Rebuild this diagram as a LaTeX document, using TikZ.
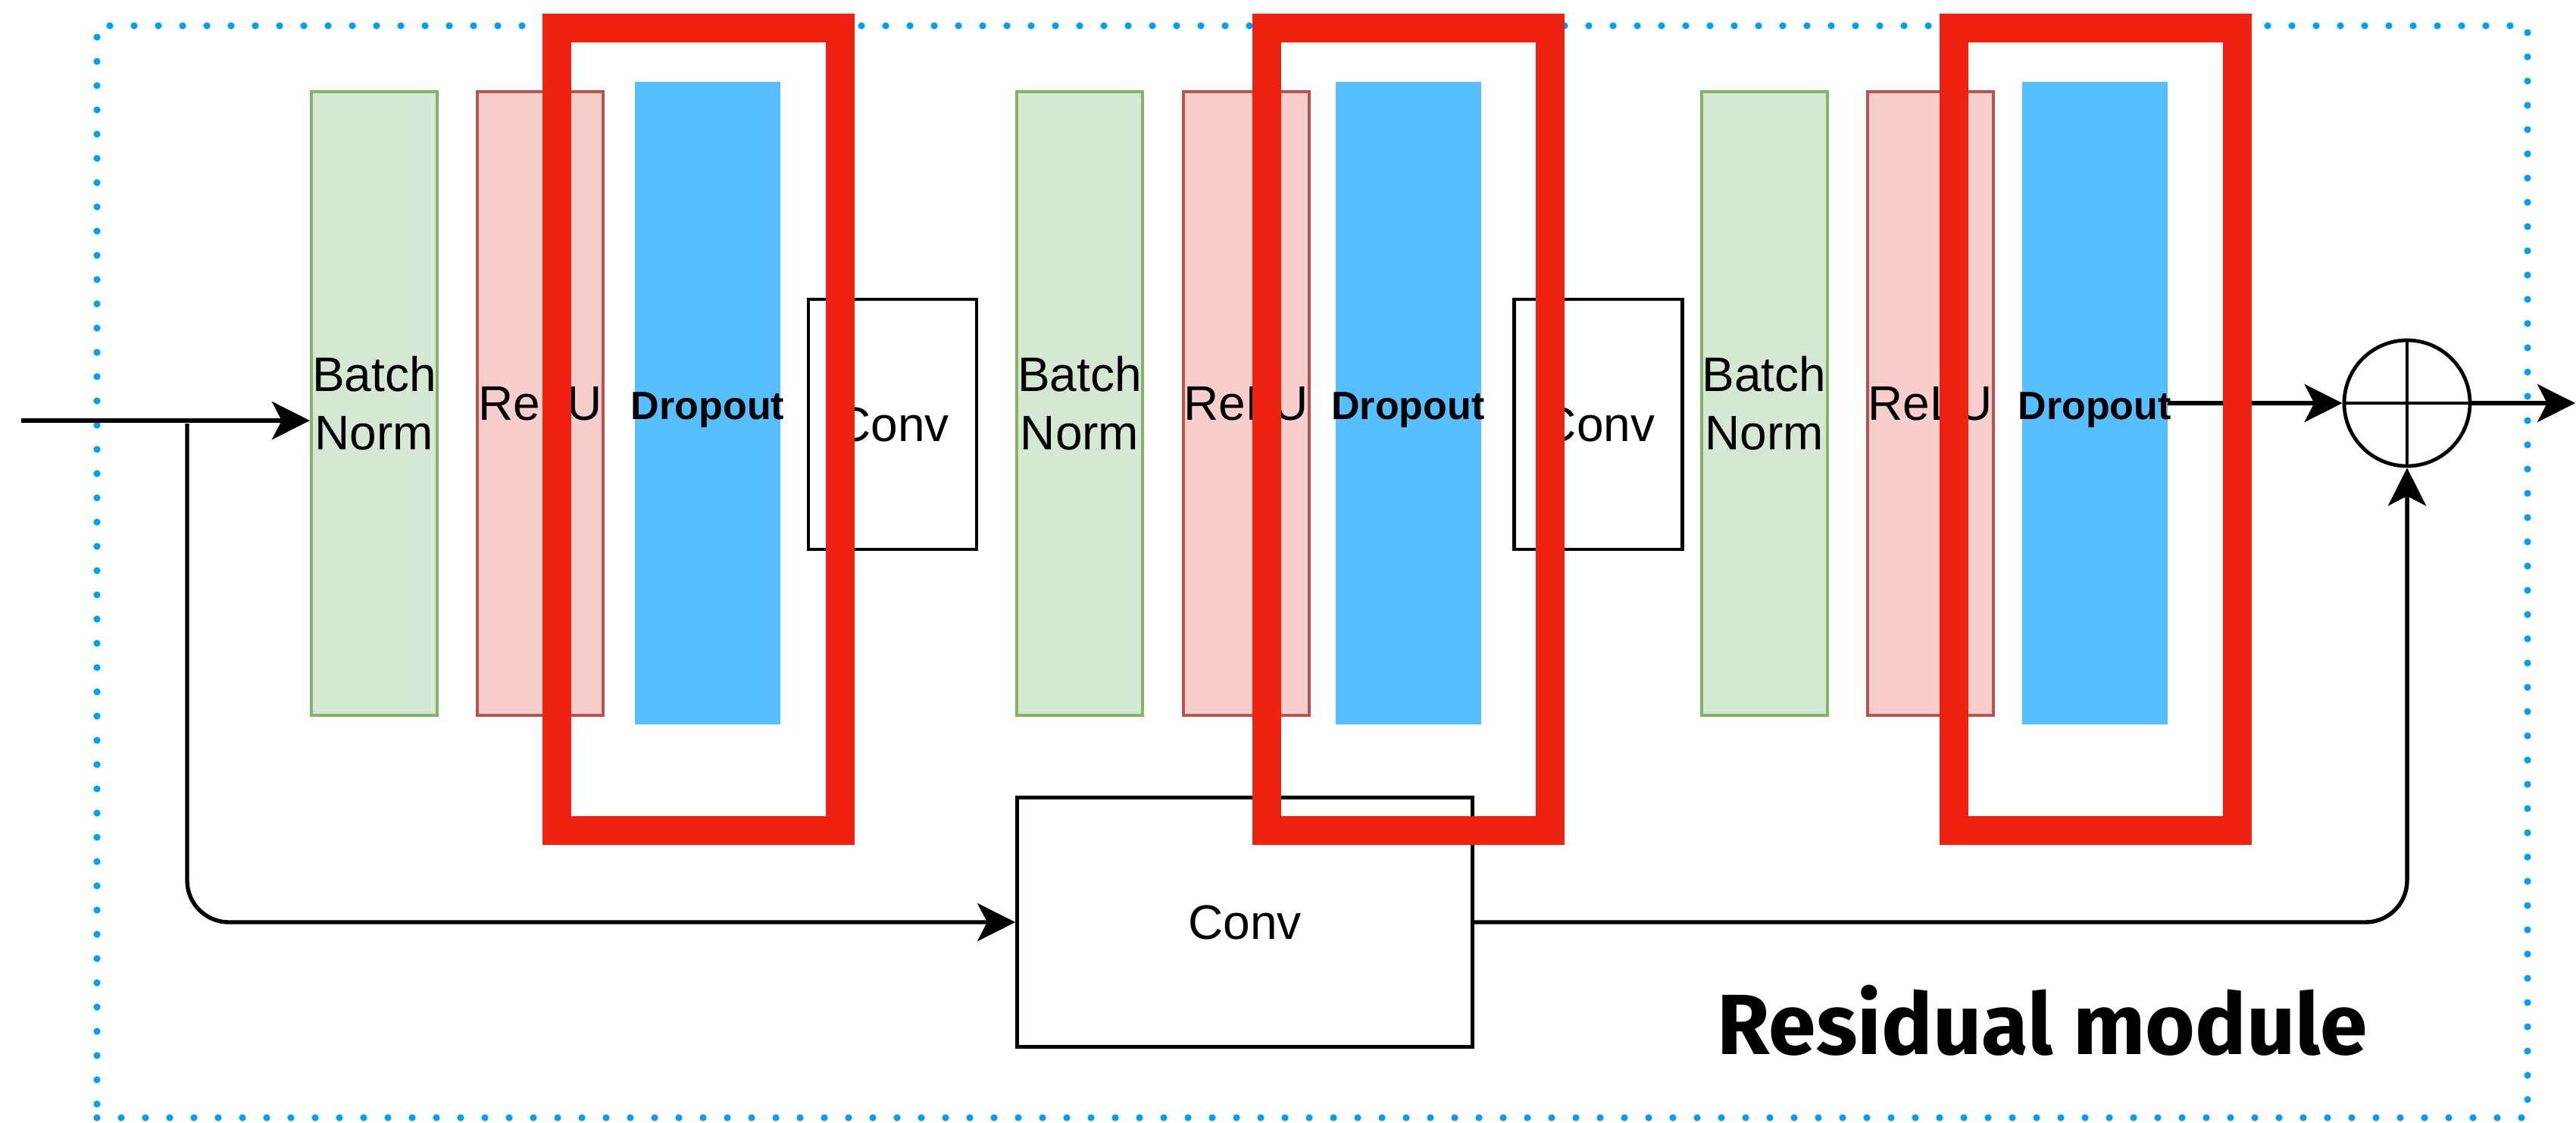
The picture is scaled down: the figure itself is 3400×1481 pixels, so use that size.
\documentclass[tikz,border=0pt]{standalone}
\usepackage{fontspec}
\setmainfont{Liberation Sans}
\newfontfamily\titlefont{Fira Sans}
\usetikzlibrary{arrows.meta,calc}
\definecolor{bnfill}{HTML}{D5E8D4}
\definecolor{bnline}{HTML}{82B366}
\definecolor{relufill}{HTML}{F8CECC}
\definecolor{reluline}{HTML}{B85450}
\definecolor{dropfill}{HTML}{57BFFF}
\definecolor{framered}{HTML}{EE2210}
\definecolor{dotblue}{HTML}{009DFA}
\begin{document}
\begin{tikzpicture}[x=0.25pt,y=-0.25pt,
  bnbox/.style={draw=bnline, fill=bnfill, line width=1pt, minimum width=41.5pt, minimum height=205.75pt, inner sep=0pt, align=center, font=\fontsize{16}{19.2}\selectfont},
  relubox/.style={draw=reluline, fill=relufill, line width=1pt, minimum width=41.5pt, minimum height=205.75pt, inner sep=0pt, font=\fontsize{16}{19.2}\selectfont},
  dropbox/.style={fill=dropfill, minimum width=48pt, minimum height=212pt, inner sep=0pt},
  droptext/.style={font=\fontsize{13}{15.6}\selectfont\bfseries, inner sep=0pt, anchor=base},
  convbox/.style={draw=black, fill=white, line width=1.2pt, inner sep=0pt, font=\fontsize{16}{19.2}\selectfont},
  redframe/.style={draw=framered, line width=9.5pt, minimum width=93.5pt, minimum height=264.75pt, inner sep=0pt},
  conn/.style={draw=black, line width=1.35pt, -{Stealth[length=12.5pt,width=12.5pt,inset=3.2pt]}},
]
\useasboundingbox (0,0) rectangle (3400,1481);

% module border
\node[draw=dotblue, line width=2.3pt, dash pattern=on 0pt off 8pt, line cap=round,
      minimum width=802pt, minimum height=360.25pt, inner sep=0pt] (module) at (1732,754.5) {};

% block 1
\node[bnbox] (bn1) at (494,532.5) {Batch\\Norm};
\node[relubox] (relu1) at (713,532.5) {ReLU};
\node[dropbox] (d1) at (934,532) {};
\node[droptext] (d1t) at ($(d1.center)+(0,21)$) {Dropout};
\node[convbox, minimum width=55.5pt, minimum height=82.5pt] (conv1) at (1178,560) {Conv};

% block 2
\node[bnbox] (bn2) at (1425,532.5) {Batch\\Norm};
\node[relubox] (relu2) at (1644.5,532.5) {ReLU};
\node[dropbox] (d2) at (1858.5,532) {};
\node[droptext] (d2t) at ($(d2.center)+(0,21)$) {Dropout};
\node[convbox, minimum width=55.5pt, minimum height=82.5pt] (conv2) at (2109.5,560) {Conv};

% block 3
\node[bnbox] (bn3) at (2328.5,532.5) {Batch\\Norm};
\node[relubox] (relu3) at (2547.5,532.5) {ReLU};
\node[dropbox] (d3) at (2764.5,532) {};
\node[droptext] (d3t) at ($(d3.center)+(0,21)$) {Dropout};

% shortcut conv
\node[convbox, minimum width=150.25pt, minimum height=82.25pt] (conv3) at (1643,1217) {Conv};

% sum
\node[draw, circle, line width=1.2pt, minimum size=41.5pt, inner sep=0pt] (sum) at (3177,532) {};
\draw[line width=1.2pt] (sum.north) -- (sum.south) (sum.west) -- (sum.east);

% connectors
\coordinate (in) at (28,555);
\coordinate (br) at (247,559);
\coordinate (out) at (3399,532);
\draw[conn] (in) -- (in -| bn1.west);
\draw[conn, rounded corners=13.75pt] (br) |- (conv3.west);
\draw[conn, rounded corners=13.75pt] (conv3.east) -| (sum.south);
\draw[conn] (d3.east) -- (sum.west);
\draw[conn] (sum.east) -- (out);

% red frames
\node[redframe] (rf1) at (922,566.5) {};
\node[redframe] (rf2) at (1858.5,566.5) {};
\node[redframe] (rf3) at (2765.5,566.5) {};

% title
\node[anchor=base west, inner sep=0pt, font=\titlefont\bfseries\fontsize{28.2}{34}\selectfont] (title) at (2266,1391) {Residual module};
\end{tikzpicture}
\end{document}
